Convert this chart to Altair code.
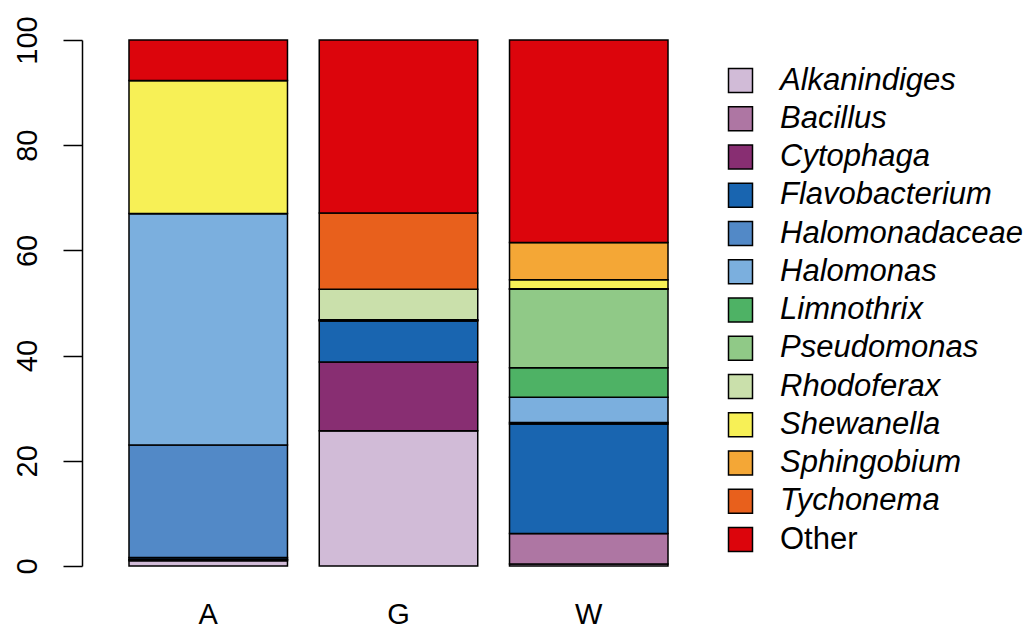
import altair as alt
import pandas as pd

genera = ["Alkanindiges", "Bacillus", "Cytophaga", "Flavobacterium",
          "Halomonadaceae", "Halomonas", "Limnothrix", "Pseudomonas",
          "Rhodoferax", "Shewanella", "Sphingobium", "Tychonema", "Other"]
colors = ["#D1BBD7", "#AE76A3", "#882E72", "#1965B0", "#5289C7", "#7BAFDE",
          "#4EB265", "#90C987", "#CAE0AB", "#F7F056", "#F4A736", "#E8601C",
          "#DC050C"]
samples = ["A", "G", "W"]
values_A = [1.0, 0.2, 0.1, 0.3, 21.4, 44.0, 0.0, 0.0, 0.0, 25.3, 0.0, 0.0, 7.7]
values_G = [25.7, 0.0, 13.1, 7.8, 0.1, 0.0, 0.0, 0.1, 5.8, 0.0, 0.0, 14.5, 32.9]
values_W = [0.4, 5.8, 0.0, 20.8, 0.3, 4.8, 5.6, 14.9, 0.1, 1.7, 7.1, 0.0, 38.5]

rows = []
for s, vals in zip(samples, [values_A, values_G, values_W]):
    for i, (g, v) in enumerate(zip(genera, vals)):
        rows.append({"sample": s, "genus": g, "value": v, "idx": i})
df = pd.DataFrame(rows)

FONT = "Liberation Sans"

chart = alt.Chart(df).mark_bar(stroke="black", strokeWidth=1.5).encode(
    x=alt.X("sample:N", sort=samples,
            scale=alt.Scale(paddingInner=0.167, paddingOuter=0.247),
            axis=alt.Axis(title=None, labelAngle=0, domain=False, ticks=False,
                          tickSize=0, labelFontSize=29, labelFont=FONT,
                          labelColor="black", labelPadding=34,
                          labelBaseline="top")),
    y=alt.Y("value:Q", stack="zero",
            scale=alt.Scale(domain=[0, 100], nice=False, zero=True),
            axis=alt.Axis(title=None, values=[0, 20, 40, 60, 80, 100],
                          grid=False, tickSize=19, tickWidth=1.5,
                          tickColor="black", domainColor="black",
                          domainWidth=1.5, labelAngle=270,
                          labelAlign="center", labelBaseline="alphabetic",
                          labelFontSize=29, labelFont=FONT,
                          labelColor="black", labelPadding=27)),
    color=alt.Color("genus:N",
                    scale=alt.Scale(domain=genera, range=colors),
                    legend=alt.Legend(
                        title=None, orient="none", legendX=643, legendY=25,
                        symbolType="square", symbolSize=576,
                        symbolStrokeColor="black", symbolStrokeWidth=1.5,
                        symbolOpacity=1,
                        labelFontSize=31, labelFont=FONT, labelColor="black",
                        labelFontStyle={"expr": "datum.value == 'Other' ? 'normal' : 'italic'"},
                        labelOffset=24, rowPadding=6.25, padding=0,
                        labelLimit=400)),
    order=alt.Order("idx:Q", sort="ascending"),
).properties(
    width=633, height=526,
    autosize=alt.AutoSizeParams(type="none"),
    padding={"left": 74, "top": 32, "right": 309, "bottom": 66},
).configure_view(stroke=None)

chart.save("out.html", embed_options={"renderer": "svg", "actions": False})
